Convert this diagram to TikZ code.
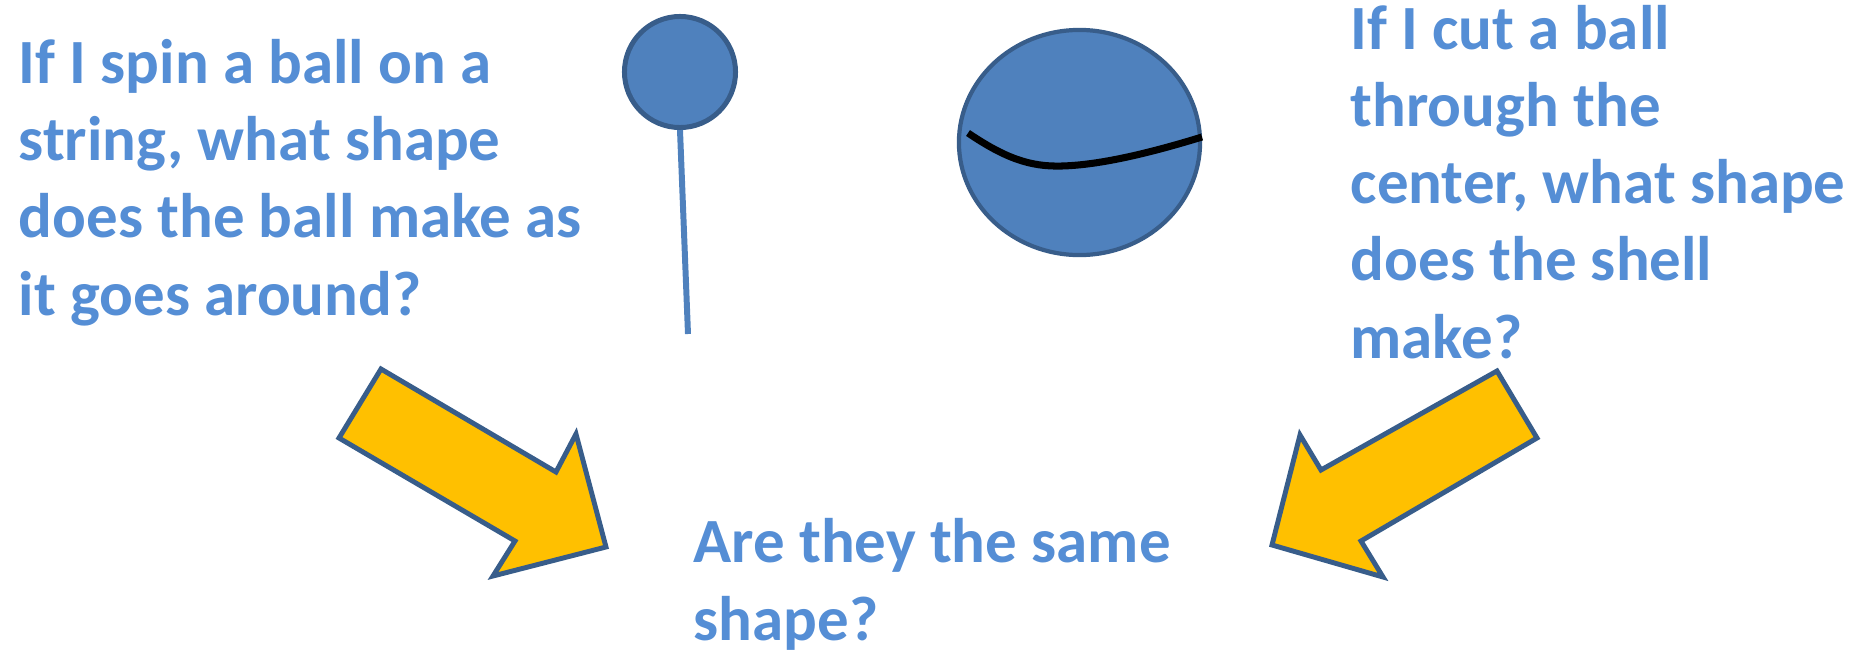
\documentclass[tikz,border=0pt]{standalone}
\usepackage{fontspec}
\setmainfont{Carlito}
\usetikzlibrary{shapes.geometric, positioning}

\definecolor{qblue}{HTML}{558ED5}
\definecolor{ballblue}{HTML}{4F81BD}
\definecolor{edgeblue}{HTML}{385D8A}
\definecolor{arrowgold}{HTML}{FFC000}

\begin{document}
\begin{tikzpicture}[
    x=0.01cm, y=-0.01cm,
    question/.style={inner sep=0pt, anchor=base west, align=left, text=qblue,
        font=\fontsize{17.9pt}{21.9pt}\selectfont\bfseries},
    ball/.style={draw=edgeblue, fill=ballblue, line width=1.42pt, circle, inner sep=0pt, minimum size=1.11cm},
    shell/.style={draw=edgeblue, fill=ballblue, line width=1.2pt, ellipse, inner sep=0pt, minimum width=2.41cm, minimum height=2.25cm},
    bigarrow/.style={draw=edgeblue, fill=arrowgold, line width=1.4pt, line join=miter}
]
    \useasboundingbox (0,0) rectangle (1868,651);

    % Questions (placed at the baseline of their last line)
    \node[question] (spin) at (18,315) {If I spin a ball on a\\string, what shape\\does the ball make as\\it goes around?};
    \node[question] (cut) at (1350,358) {If I cut a ball\\through the\\center, what shape\\does the shell\\make?};
    \node[question] (same) at (693,640) {Are they the same\\shape?};

    % Ball on a string
    \coordinate (hand) at (688,334);
    \node[ball] (smallball) at (680,72) {};
    \draw[ballblue, line width=1.7pt] (smallball.south) -- (hand);

    % Ball cut through the center
    \node[shell] (bigball) at (1079.5,142.5) {};
    \coordinate (cutL) at (968,133);
    \coordinate (cutM) at (1062,166);
    \coordinate (cutR) at (1202,137);
    \draw[black, line width=2pt] (cutL) .. controls (1005,158) and (1030,167) .. (cutM)
        .. controls (1100,165) and (1150,153) .. (cutR);

    % Arrows
    \filldraw[bigarrow] (381,369) -- (556,472) -- (576,434) -- (606,547) -- (493,576) -- (515,541) -- (339,438) -- cycle;
    \filldraw[bigarrow] (1497,371) -- (1321,470) -- (1300,435) -- (1272,545) -- (1383,577) -- (1361,541) -- (1537,438) -- cycle;

\end{tikzpicture}
\end{document}
